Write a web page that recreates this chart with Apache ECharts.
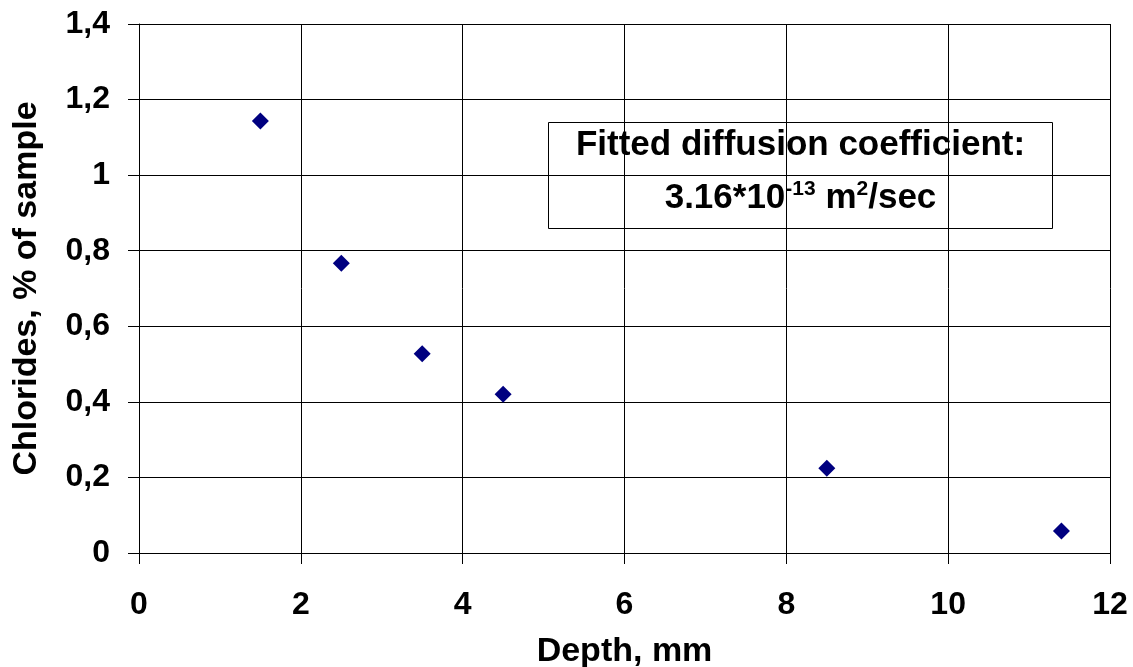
<!DOCTYPE html>
<html><head><meta charset="utf-8">
<script src="https://cdn.jsdelivr.net/npm/echarts@6/dist/echarts.min.js"></script>
<style>html,body{margin:0;padding:0;background:#fff}#c{width:1133px;height:667px}</style>
</head><body><div id="c"></div>
<script>
const depth = [1.5, 2.5, 3.5, 4.5, 8.5, 11.4];
const chlorides = [1.143, 0.767, 0.527, 0.42, 0.224, 0.058];
const xTicks = [0, 2, 4, 6, 8, 10, 12];
const yTicks = [0, 0.2, 0.4, 0.6, 0.8, 1, 1.2, 1.4];

const F = 'Liberation Sans, Arial, sans-serif';
const chart = echarts.init(document.getElementById('c'));
chart.setOption({
  animation: false,
  backgroundColor: '#fff',
  grid: {left: 139, right: 23, top: 24, bottom: 114, containLabel: false, outerBoundsMode: 'none'},
  xAxis: {
    type: 'value', min: 0, max: 12, interval: 2,
    name: 'Depth, mm', nameLocation: 'middle', nameGap: 82,
    nameTextStyle: {fontFamily: F, fontWeight: 'bold', fontSize: 34, color: '#000'},
    axisLine: {show: true, lineStyle: {color: '#000', width: 1}},
    axisTick: {show: true, length: 11, lineStyle: {color: '#000'}},
    axisLabel: {fontFamily: F, fontWeight: 'bold', fontSize: 32, color: '#000', margin: 36,
      formatter: v => xTicks.includes(v) ? String(v) : ''},
    splitLine: {show: true, lineStyle: {color: '#000', width: 1}}
  },
  yAxis: {
    type: 'value', min: 0, max: 1.4, interval: 0.2,
    name: 'Chlorides, % of sample', nameLocation: 'middle', nameGap: 95, nameRotate: 90,
    nameTextStyle: {fontFamily: F, fontWeight: 'bold', fontSize: 34, color: '#000'},
    axisLine: {show: true, lineStyle: {color: '#000', width: 1}},
    axisTick: {show: true, length: 11, lineStyle: {color: '#000'}},
    axisLabel: {fontFamily: F, fontWeight: 'bold', fontSize: 32, color: '#000', margin: 29,
      formatter: v => {
        const t = yTicks.find(k => Math.abs(k - v) < 1e-9);
        return t === undefined ? '' : String(+t.toFixed(1)).replace('.', ',');
      }},
    splitLine: {show: true, lineStyle: {color: '#000', width: 1}}
  },
  series: [{
    type: 'scatter',
    data: depth.map((d, i) => [d, chlorides[i]]),
    symbol: 'diamond', symbolSize: 17,
    itemStyle: {color: '#000080', opacity: 1}
  }],
  graphic: [{
    type: 'group', left: 548, top: 122,
    children: [
      {type: 'rect', shape: {x: 0, y: 0, width: 504, height: 106},
       style: {fill: '#fff', stroke: '#000', lineWidth: 1}},
      {type: 'text', x: 252, y: 23, style: {text: 'Fitted diffusion coefficient:', fontFamily: F,
        fontWeight: 'bold', fontSize: 35, fill: '#000', align: 'center', verticalAlign: 'middle'}},
      {type: 'text', x: 252, y: 75, style: {
        text: '{b|3.16*10}{s|-13}{b| m}{s|2}{b|/sec}',
        align: 'center', verticalAlign: 'middle',
        rich: {
          b: {fontFamily: F, fontWeight: 'bold', fontSize: 35, color: '#000', lineHeight: 36, verticalAlign: 'bottom'},
          s: {fontFamily: F, fontWeight: 'bold', fontSize: 21, color: '#000', lineHeight: 36, verticalAlign: 'bottom', padding: [0, 0, 16, 0]}
        }
      }}
    ]
  }]
});
</script></body></html>
